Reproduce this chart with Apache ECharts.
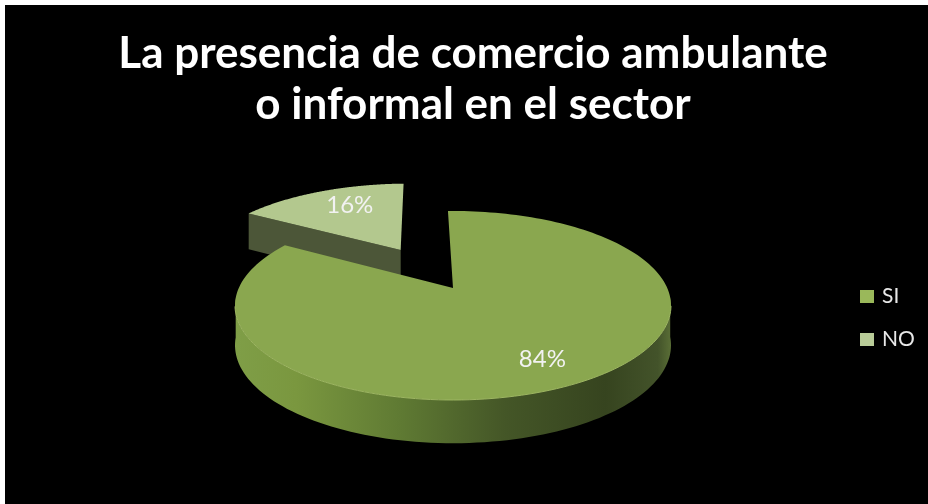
<!DOCTYPE html>
<html><head><meta charset="utf-8">
<style>html,body{margin:0;padding:0;background:#fff;overflow:hidden}#c{position:absolute;left:5px;top:5px;width:923px;height:499px;filter:blur(0.5px)}</style>
<script src="https://cdn.jsdelivr.net/npm/echarts@6/dist/echarts.min.js"></script>
</head><body><div id="c"></div>
<script>
const titleLines = ['La presencia de comercio ambulante', 'o informal en el sector'];
const categories = ['SI', 'NO'];
const values = [84, 16];
const topColors = ['#8aa74f', '#b3c88e'];
const legendColors = ['#9ab85a', '#b9cc98'];

const OX = 5, OY = 5;
const CX = 453 - OX, CY = 305.5 - OY, RX = 218, RY = 94.5, K = 0.185;
const START = -1.6;
const P = RX * Math.sqrt(1 - K * K);
const total = values.reduce((a, b) => a + b, 0);
const explode = [0, 0.523];
const labelR = [0.75, 0.6];
const labelShift = [[-3, 4], [0, -8]];

function proj(u, v) {
  const w = 1 - K * v;
  return { x: CX + P * u / w, y: CY + RY * (v - K) / w, d: 39 / Math.sqrt(w) };
}
function dir(deg) { const a = deg * Math.PI / 180; return [Math.sin(a), -Math.cos(a)]; }
function sliceRange(i) {
  let s = START;
  for (let k = 0; k < i; k++) s += values[k] / total * 360;
  return [s, s + values[i] / total * 360];
}
function renderSlice(i) {
  return function () {
    const [a0, a1] = sliceRange(i);
    const mid = dir((a0 + a1) / 2);
    const ox = mid[0] * explode[i], oy = mid[1] * explode[i];
    const at = (deg, r) => { const d = dir(deg); return proj(ox + d[0] * r, oy + d[1] * r); };
    const rim = [];
    for (let t = 0; t <= 180; t++) rim.push(at(a0 + (a1 - a0) * t / 180, 1));
    const apex = proj(ox, oy);
    const children = [];
    if (i === 0) {
      const front = rim.filter(p => p.y >= CY - 10);
      const pts = front.map(p => [p.x, p.y]).concat(front.slice().reverse().map(p => [p.x, p.y + p.d]));
      children.push({ type: 'polygon', shape: { points: pts }, style: { fill: new echarts.graphic.LinearGradient(0, 0, 1, 0, [
        { offset: 0, color: '#7f9e47' }, { offset: 0.14, color: '#7a973f' }, { offset: 0.38, color: '#5f7a33' },
        { offset: 0.62, color: '#445627' }, { offset: 0.85, color: '#36441f' }, { offset: 0.97, color: '#43532a' }, { offset: 1, color: '#5a6e36' }
      ]) } });
    } else {
      const l = rim[0];
      const pts = [[l.x, l.y], [apex.x, apex.y], [apex.x, apex.y + apex.d], [l.x, l.y + l.d]];
      children.push({ type: 'polygon', shape: { points: pts }, style: { fill: '#4c5638' } });
    }
    const top = [[apex.x, apex.y]].concat(rim.map(p => [p.x, p.y]));
    children.push({ type: 'polygon', shape: { points: top }, style: { fill: topColors[i] } });
    if (i === 0) {
      const edge = rim.filter(p => p.y >= CY).map(p => [p.x, p.y]);
      children.push({ type: 'polyline', shape: { points: edge }, style: { fill: null, stroke: '#9db662', lineWidth: 1 } });
    }
    const lp = at((a0 + a1) / 2, labelR[i]);
    children.push({ type: 'text', x: lp.x + labelShift[i][0], y: lp.y + labelShift[i][1], style: {
      text: Math.round(values[i] / total * 100) + '%', fill: '#f2f2f2', align: 'center', verticalAlign: 'middle',
      font: '400 24px Lato'
    } });
    return { type: 'group', children };
  };
}
const series = [1, 0].map(i => ({
  type: 'custom', name: categories[i], coordinateSystem: 'none', silent: true,
  itemStyle: { color: legendColors[i] },
  data: [[values[i]]], renderItem: renderSlice(i), animation: false
}));
const chart = echarts.init(document.getElementById('c'), null, { renderer: 'canvas' });
chart.setOption({
  backgroundColor: '#000',
  animation: false,
  title: { text: titleLines.join('\n'), left: 463, top: 18, textAlign: 'center',
    textStyle: { color: '#fff', fontFamily: 'Lato', fontWeight: 'bold', fontSize: 44, lineHeight: 51 } },
  legend: { orient: 'vertical', left: 850, top: 276, itemWidth: 14, itemHeight: 13, itemGap: 22, icon: 'rect',
    data: categories, textStyle: { color: '#e8e8e8', fontFamily: 'Lato', fontSize: 21, padding: [0, 0, 0, 3] }, selectedMode: false },
  series
});
</script></body></html>
